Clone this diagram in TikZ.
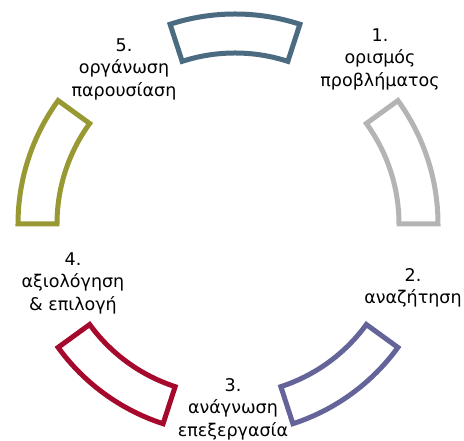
\documentclass[tikz,border=0pt]{standalone}
\usepackage{fontspec}
\setmainfont{DejaVu Sans}
\definecolor{cslate}{RGB}{74,107,128}
\definecolor{cgray}{RGB}{180,180,180}
\definecolor{cpurple}{RGB}{100,100,154}
\definecolor{ccrimson}{RGB}{165,10,45}
\definecolor{colive}{RGB}{153,153,51}
\tikzset{
  seg/.style={line width=5pt, line join=miter, fill=white},
  lab/.style={align=center, font=\fontsize{17.5}{22.5}\selectfont, text=black, inner sep=0pt}
}
\newcommand{\annseg}[4]{%
  \draw[seg, draw=#1, shift={#2}] (#3:171pt) -- (#3:210pt) arc[start angle=#3, end angle=#4, radius=210pt] -- (#4:171pt) arc[start angle=#4, end angle=#3, radius=171pt] -- cycle;}
\begin{document}
\begin{tikzpicture}[x=1pt,y=1pt]
\path[use as bounding box] (0,0) rectangle (464,441);
\coordinate (c) at (228,217);
\coordinate (ct) at (235,217);
\annseg{cgray}{(c)}{0}{36}
\annseg{cslate}{(ct)}{72}{108}
\annseg{colive}{(c)}{144}{180}
\annseg{ccrimson}{(c)}{216}{252}
\annseg{cpurple}{(c)}{288}{324}
\node[lab] (l1) at (380,382) {1.\\ορισμός\\προβλήματος};
\node[lab] (l2) at (413,153) {2.\\αναζήτηση};
\node[lab] (l3) at (233,32) {3.\\ανάγνωση\\επεξεργασία};
\node[lab] (l4) at (73,158) {4.\\αξιολόγηση\\\& επιλογή};
\node[lab] (l5) at (124,372) {5.\\οργάνωση\\παρουσίαση};
\end{tikzpicture}
\end{document}
